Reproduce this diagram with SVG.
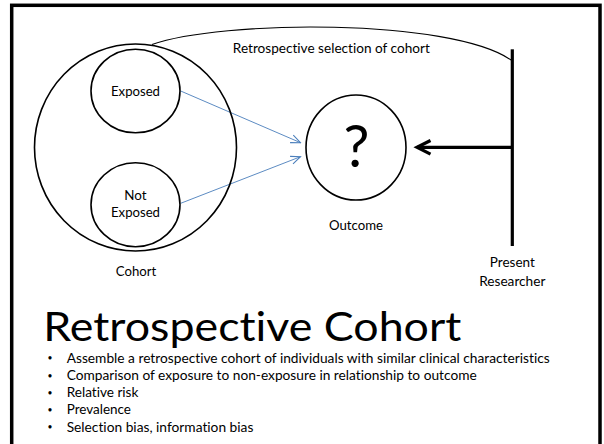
<svg xmlns="http://www.w3.org/2000/svg" width="604" height="444" viewBox="0 0 604 444">
  <style>
    text { font-family: Lato, "Liberation Sans", sans-serif; fill: #000; font-variant-ligatures: none; }
    .lbl { font-size: 13.4px; text-anchor: middle; }
    .ring { fill: none; stroke: #000; stroke-width: 1.6; }
    .blue { fill: none; stroke: #4a7ebb; stroke-width: 0.9; }
    .bul { font-size: 13.2px; }
    .dot { font-size: 8.5px; text-anchor: middle; }
  </style>
  <defs>
    <marker id="openBlue" markerUnits="userSpaceOnUse" markerWidth="12" markerHeight="12" viewBox="0 0 10 10" refX="9" refY="5" orient="auto">
      <path d="M1,1.6 L9,5 L1,8.4" fill="none" stroke="#4a7ebb" stroke-width="0.9"/>
    </marker>
  </defs>

  <rect width="604" height="444" fill="#fff"/>
  <!-- slide frame -->
  <rect x="11.7" y="5.3" width="588.3" height="470" fill="none" stroke="#000" stroke-width="3.5"/>

  <!-- connectors -->
  <g id="connectors">
    <path d="M152,44.5 C220,20 450,18 511,60" fill="none" stroke="#000" stroke-width="1.1"/>
    <line class="blue" x1="180.7" y1="91" x2="300.5" y2="142.7" marker-end="url(#openBlue)"/>
    <line class="blue" x1="180.7" y1="203.3" x2="300.5" y2="156.7" marker-end="url(#openBlue)"/>
    <line x1="512.3" y1="147.3" x2="417" y2="147.3" stroke="#000" stroke-width="3.2"/>
    <path d="M430.5,140.5 L417,147.3 L430.5,154.1" fill="none" stroke="#000" stroke-width="3.2" stroke-linejoin="miter"/>
  </g>

  <text class="lbl" x="331.3" y="53" textLength="197" lengthAdjust="spacingAndGlyphs">Retrospective selection of cohort</text>

  <g id="cohort">
    <ellipse class="ring" cx="135.5" cy="147.5" rx="101" ry="103.5"/>
    <text class="lbl" x="136" y="275.7" textLength="40.5" lengthAdjust="spacingAndGlyphs">Cohort</text>
  </g>

  <g id="exposed">
    <ellipse class="ring" cx="135.5" cy="91" rx="44.5" ry="41.8"/>
    <text class="lbl" x="135.5" y="95.5" textLength="49" lengthAdjust="spacingAndGlyphs">Exposed</text>
  </g>

  <g id="not-exposed">
    <ellipse class="ring" cx="135.5" cy="204.7" rx="44.5" ry="42"/>
    <text class="lbl" x="135.5" y="199.7">Not</text>
    <text class="lbl" x="135.5" y="217.3" textLength="49" lengthAdjust="spacingAndGlyphs">Exposed</text>
  </g>

  <g id="outcome">
    <ellipse class="ring" cx="356" cy="147.5" rx="50" ry="52.5" stroke-width="1.4"/>
    <text x="356.5" y="166.7" font-size="58" text-anchor="middle">?</text>
    <text class="lbl" x="356" y="229.7" textLength="54" lengthAdjust="spacingAndGlyphs">Outcome</text>
  </g>

  <g id="present-researcher">
    <line x1="512.3" y1="49.3" x2="512.3" y2="246" stroke="#000" stroke-width="3.2"/>
    <text class="lbl" x="512.3" y="267.3" textLength="45" lengthAdjust="spacingAndGlyphs">Present</text>
    <text class="lbl" x="512.3" y="285.7" textLength="66.3" lengthAdjust="spacingAndGlyphs">Researcher</text>
  </g>

  <g id="summary">
    <text x="43.3" y="341" font-size="40" textLength="418" lengthAdjust="spacingAndGlyphs">Retrospective Cohort</text>
    <text class="dot" x="50" y="361">•</text>
    <text class="dot" x="50" y="378.5">•</text>
    <text class="dot" x="50" y="395.5">•</text>
    <text class="dot" x="50" y="412.5">•</text>
    <text class="dot" x="50" y="430">•</text>
    <text class="bul" x="66.7" y="362.5" textLength="483" lengthAdjust="spacingAndGlyphs">Assemble a retrospective cohort of individuals with similar clinical characteristics</text>
    <text class="bul" x="66.7" y="380" textLength="410" lengthAdjust="spacingAndGlyphs">Comparison of exposure to non-exposure in relationship to outcome</text>
    <text class="bul" x="66.7" y="397" textLength="71.7" lengthAdjust="spacingAndGlyphs">Relative risk</text>
    <text class="bul" x="66.7" y="414" textLength="64.3" lengthAdjust="spacingAndGlyphs">Prevalence</text>
    <text class="bul" x="66.7" y="431.5" textLength="186.7" lengthAdjust="spacingAndGlyphs">Selection bias, information bias</text>
  </g>
</svg>
